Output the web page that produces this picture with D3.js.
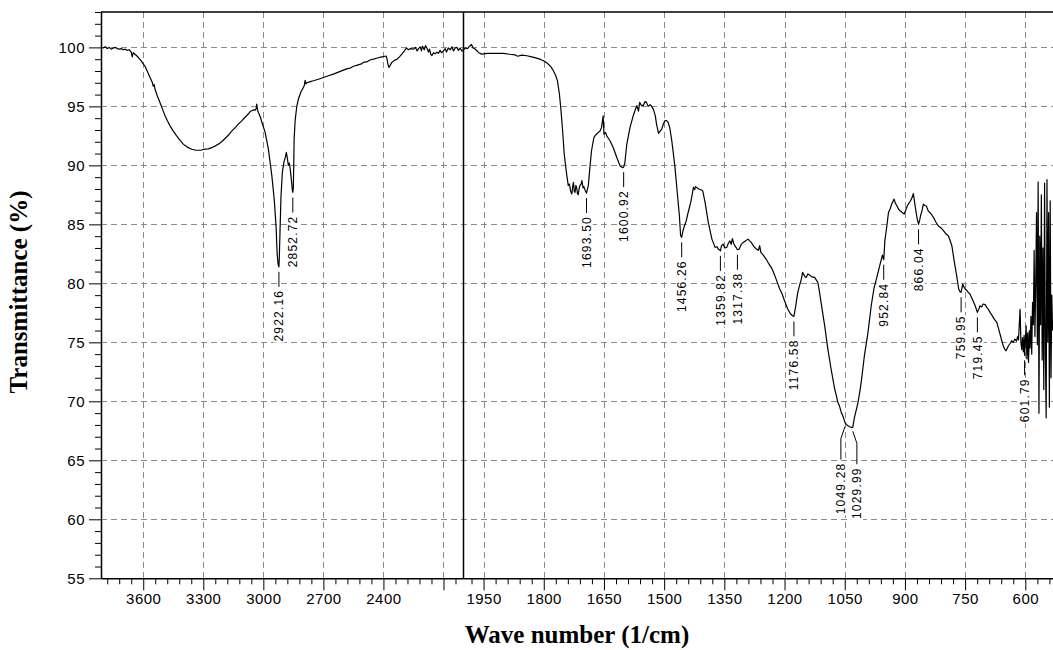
<!DOCTYPE html>
<html><head><meta charset="utf-8">
<script src="https://cdn.jsdelivr.net/npm/d3@7"></script>
<style>
html,body{margin:0;padding:0;background:#fff;}
svg{display:block;}
</style></head><body>
<svg id="chart" width="1053" height="650"></svg>
<script>
// FTIR transmittance spectrum, high wavenumber region (3811–2000 cm⁻¹)
const spectrumHigh = [
  [3811,100.0],[3800,99.95],[3790,100.05],[3780,99.9],[3770,100.0],[3760,99.85],[3750,99.95],[3740,100.0],
  [3730,99.9],[3720,99.85],[3710,99.9],[3700,99.8],[3690,99.85],[3680,99.75],[3670,99.8],[3660,99.6],
  [3655,99.2],[3650,99.55],[3640,99.4],[3630,99.25],[3620,99.05],[3610,98.85],[3600,98.6],[3591,98.4],
  [3580,98.0],[3566,97.45],[3555,97.05],[3550,96.7],[3545,96.85],[3541,96.45],[3530,95.9],[3516,95.3],
  [3500,94.6],[3491,94.2],[3480,93.8],[3466,93.35],[3450,92.9],[3433,92.5],[3415,92.1],[3400,91.8],
  [3380,91.55],[3358,91.37],[3340,91.3],[3325,91.28],[3310,91.3],[3291,91.37],[3275,91.4],[3258,91.5],
  [3240,91.65],[3225,91.8],[3208,92.0],[3190,92.3],[3175,92.55],[3158,92.9],[3140,93.2],[3125,93.5],
  [3108,93.77],[3090,94.1],[3075,94.35],[3066,94.56],[3050,94.7],[3041,94.68],[3036,94.8],[3033,95.2],
  [3029,94.7],[3025,94.5],[3015,94.1],[3008,93.7],[2991,92.8],[2975,91.4],[2958,89.2],[2945,87.0],
  [2936,84.7],[2931,82.5],[2926,81.6],[2922,81.4],[2920,82.3],[2917,84.2],[2912,87.3],[2905,89.4],
  [2897,90.3],[2890,90.7],[2885,91.1],[2880,90.6],[2875,90.0],[2870,90.2],[2865,89.6],[2860,88.8],
  [2855,87.9],[2852.7,87.7],[2850,88.1],[2846,92.3],[2841,93.8],[2833,95.0],[2825,95.6],[2813,96.2],
  [2800,96.6],[2795,96.8],[2791,97.2],[2787,96.9],[2783,97.0],[2765,97.1],[2750,97.17],[2725,97.3],
  [2700,97.45],[2675,97.6],[2650,97.73],[2625,97.9],[2600,98.07],[2580,98.2],[2565,98.25],[2550,98.4],
  [2530,98.5],[2510,98.6],[2500,98.73],[2480,98.8],[2465,98.95],[2450,99.0],[2430,99.1],[2408,99.2],
  [2392,99.25],[2386,99.26],[2382,99.0],[2378,98.6],[2372,98.3],[2366,98.5],[2358,98.73],[2345,98.9],
  [2333,99.0],[2320,99.2],[2308,99.43],[2295,99.7],[2286,99.95],[2275,99.8],[2265,99.9],[2250,99.85],
  [2240,100.0],[2232,99.7],[2225,99.9],[2216,100.05],[2210,99.7],[2205,100.1],[2196,99.8],[2190,100.15],
  [2183,99.95],[2175,99.6],[2170,99.85],[2163,99.4],[2158,99.3],[2150,99.55],[2142,99.45],[2133,99.6],
  [2125,99.5],[2117,99.75],[2110,99.55],[2100,99.7],[2092,99.9],[2085,99.6],[2076,99.95],[2066,99.8],
  [2058,100.05],[2050,99.7],[2042,99.95],[2033,100.0],[2025,99.75],[2017,99.95],[2008,99.7],[2000,99.8]
];

// Fingerprint region (2000–532 cm⁻¹)
const spectrumLow = [
  [2000,99.8],[1995,99.95],[1990,99.9],[1985,100.1],[1980,100.25],[1976,99.95],[1971,99.86],[1962,99.55],
  [1955,99.43],[1940,99.5],[1925,99.49],[1910,99.5],[1900,99.49],[1885,99.42],[1872,99.37],[1865,99.25],
  [1855,99.35],[1842,99.29],[1830,99.2],[1818,99.09],[1808,98.98],[1801,98.87],[1795,98.75],[1789,98.59],
  [1782,98.35],[1776,98.02],[1770,97.6],[1766,97.18],[1761,96.05],[1757,94.64],[1753,92.94],[1749,90.96],
  [1745,89.8],[1743,89.27],[1739,88.3],[1736,88.42],[1733,87.8],[1730,87.57],[1728,88.2],[1726,88.56],
  [1724,87.8],[1722,87.71],[1720,88.3],[1718,88.13],[1716,87.6],[1714,87.51],[1712,88.0],[1710,88.28],
  [1707,88.4],[1705,88.7],[1702,88.1],[1700,88.2],[1697,87.9],[1693.5,87.65],[1691,88.0],[1689,88.28],
  [1685,89.83],[1681,91.24],[1675,92.37],[1670,92.6],[1664,92.8],[1660,92.9],[1656,93.22],[1652,94.2],
  [1650,92.65],[1646,92.8],[1643,92.5],[1635,92.09],[1627,91.52],[1618,90.67],[1610,89.97],[1604,89.8],
  [1601,89.85],[1598,90.2],[1593,91.81],[1585,93.22],[1577,94.21],[1570,94.9],[1568,95.06],[1564,94.6],
  [1561,95.34],[1557,95.1],[1552,95.06],[1548,95.4],[1544,95.34],[1540,95.0],[1535,95.14],[1531,95.0],
  [1527,94.77],[1522,94.2],[1519,93.5],[1514,92.71],[1510,92.9],[1506,93.08],[1502,93.5],[1498,93.79],
  [1494,93.8],[1490,93.64],[1486,93.2],[1481,92.09],[1477,91.0],[1473,89.83],[1467,87.57],[1462,85.73],
  [1459,84.04],[1456.3,83.9],[1454,84.3],[1452,84.6],[1449,84.9],[1445,85.3],[1441,85.9],[1437,86.43],
  [1433,87.0],[1430,87.57],[1427,88.14],[1424,87.95],[1422,88.2],[1418,88.1],[1414,88.0],[1410,87.95],
  [1404,87.85],[1398,86.86],[1390,85.17],[1381,83.75],[1373,83.05],[1368,83.1],[1365,82.9],[1362,82.85],
  [1359.8,82.75],[1357,83.2],[1353,83.33],[1349,83.0],[1344,83.05],[1340,83.4],[1336,83.6],[1333,83.3],
  [1330,83.8],[1327,83.4],[1324,83.19],[1320,83.0],[1317.4,82.85],[1313,82.9],[1308,83.3],[1303,83.47],
  [1297,83.6],[1291,83.75],[1287,83.6],[1283,83.47],[1276,83.1],[1270,82.9],[1265,82.8],[1262,83.2],
  [1259,82.63],[1253,82.4],[1246,82.06],[1240,81.7],[1233,81.36],[1227,80.9],[1221,80.36],[1212,79.52],
  [1206,79.1],[1200,78.53],[1192,77.82],[1185,77.4],[1180,77.25],[1176.6,77.2],[1172,78.1],[1167,79.24],
  [1162,79.9],[1158,80.36],[1155,80.93],[1150,80.6],[1146,80.5],[1142,80.8],[1138,80.7],[1132,80.55],
  [1125,80.5],[1121,80.3],[1117,80.08],[1113,79.3],[1109,78.39],[1100,76.41],[1092,74.43],[1084,72.74],
  [1075,71.04],[1071,70.5],[1067,69.9],[1063,69.6],[1059,69.1],[1054,68.7],[1049.3,68.2],[1046,68.05],
  [1042,67.93],[1038,67.85],[1034,67.8],[1030,67.8],[1026,68.6],[1021,69.3],[1017,69.9],[1013,70.7],
  [1009,71.6],[1001,73.86],[992,75.85],[984,78.1],[977,79.6],[970,80.5],[962,81.6],[956,82.4],
  [952.8,82.0],[950,83.6],[945,84.88],[941,86.0],[937,86.3],[933,86.72],[927,87.14],[924,86.8],
  [920,86.58],[916,86.3],[912,86.15],[907,86.0],[902,85.87],[898,86.2],[894,86.58],[890,86.8],
  [886,87.0],[882,87.3],[879,87.6],[876,86.9],[872,86.0],[869,85.4],[866,85.0],[863,85.4],
  [861,85.73],[857,86.2],[854,86.72],[851,86.6],[847,86.58],[842,86.15],[835,85.9],[829,85.59],
  [823,85.2],[817,84.88],[810,84.7],[804,84.46],[798,84.2],[792,84.03],[788,83.7],[783,83.19],
  [778,82.06],[771,80.64],[766,79.52],[763,79.3],[760,79.24],[758,79.6],[756,79.94],[753,79.7],
  [750,79.52],[746,79.4],[742,79.24],[738,79.1],[734,78.81],[730,78.5],[725,78.1],[722,77.8],
  [719.5,77.54],[716,77.8],[713,78.1],[709,78.0],[705,78.25],[700,78.2],[696,77.96],[692,77.8],
  [688,77.54],[684,77.35],[680,77.12],[676,76.9],[671,76.69],[667,76.2],[663,75.7],[659,75.2],
  [655,74.71],[651,74.4],[648,74.29],[645,74.5],[642,74.71],[638,74.9],[634,75.14],[630,75.0],
  [626,75.28],[622,75.1],[619,75.5],[617,75.2],[615,76.5],[613,77.8],[611,75.0],[609,74.4],
  [607,75.4],[605,74.2],[603,75.6],[601.8,73.9],[600,75.0],[598,76.4],[596,73.6],[594,75.8],
  [592,73.3],[590,76.0],[588,74.5],[586,77.2],[584,74.0],[582,78.4],[580,76.5],[578,82.8],
  [576,75.5],[574,80.2],[572,86.0],[570,74.8],[568,88.6],[566,69.0],[564,84.0],[562,76.5],
  [560,87.5],[558,73.5],[556,83.0],[554,71.0],[552,88.5],[550,74.0],[548,68.6],[546,88.8],
  [544,75.0],[542,86.0],[540,69.5],[538,87.0],[536,72.0],[534,79.0],[532,76.0]
];

// Annotated absorption bands
const peakWaveNumbers = [2922.16, 2852.72, 1693.50, 1600.92, 1456.26, 1359.82, 1317.38, 1176.58,
  1049.28, 1029.99, 952.84, 866.04, 759.95, 719.45, 601.79];
const peakTransmittance = [81.4, 87.7, 87.65, 89.85, 83.9, 82.75, 82.85, 77.2,
  68.2, 67.8, 82.0, 85.0, 79.24, 77.54, 73.9];
const peakLabels = ["2922.16", "2852.72", "1693.50", "1600.92", "1456.26", "1359.82", "1317.38", "1176.58",
  "1049.28", "1029.99", "952.84", "866.04", "759.95", "719.45", "601.79"];

// Axis ticks
const yMajorTicks = [55, 60, 65, 70, 75, 80, 85, 90, 95, 100];
const yGridTicks = [60, 65, 70, 75, 80, 85, 90, 95, 100];
const xMajorHigh = [3600, 3300, 3000, 2700, 2400, 2100];
const xLabelsHigh = ["3600", "3300", "3000", "2700", "2400", ""];
const xMajorLow = [1950, 1800, 1650, 1500, 1350, 1200, 1050, 900, 750, 600];
const xLabelsLow = ["1950", "1800", "1650", "1500", "1350", "1200", "1050", "900", "750", "600"];
const xBreak = 2000;

const svg = d3.select("#chart");
const plotLeft = 101, plotTop = 12, plotBottom = 578.3, plotRight = 1053, breakX = 463.5;

// Two linear pieces: compressed high range, expanded fingerprint range
const x = d3.scaleLinear()
  .domain([3811, xBreak, 531])
  .range([plotLeft, breakX, plotRight]);
const y = d3.scaleLinear().domain([55, 103]).range([plotBottom, plotTop]);

const xMajor = xMajorHigh.concat(xMajorLow);
const xLabelMap = new Map(xMajor.map((v, i) => [v, xLabelsHigh.concat(xLabelsLow)[i]]));
const xMinor = [];
for (let v = 3780; v > xBreak; v -= 60) if (!xMajorHigh.includes(v)) xMinor.push(v);
for (let v = 1980; v > 531; v -= 30) if (!xMajorLow.includes(v)) xMinor.push(v);
const yMinor = d3.range(56, 104).filter(v => v % 5 !== 0);

// Dashed grid
const grid = svg.append("g").attr("stroke", "#8a8a8a").attr("stroke-width", 1)
  .attr("stroke-dasharray", "6,4");
grid.selectAll("line.v").data(xMajor).join("line")
  .attr("x1", d => Math.round(x(d)) + 0.5).attr("x2", d => Math.round(x(d)) + 0.5)
  .attr("y1", plotTop).attr("y2", plotBottom);
grid.selectAll("line.h").data(yGridTicks).join("line")
  .attr("x1", plotLeft).attr("x2", plotRight)
  .attr("y1", d => Math.round(y(d)) + 0.5).attr("y2", d => Math.round(y(d)) + 0.5);

// Spectrum trace
const spectrum = spectrumHigh.concat(spectrumLow.slice(1));
svg.append("path")
  .datum(spectrum)
  .attr("fill", "none").attr("stroke", "#000").attr("stroke-width", 1.2)
  .attr("stroke-linejoin", "round")
  .attr("d", d3.line().x(d => x(d[0])).y(d => y(d[1])));

// Scale break marker
svg.append("line")
  .attr("x1", breakX).attr("x2", breakX).attr("y1", plotTop).attr("y2", plotBottom)
  .attr("stroke", "#000").attr("stroke-width", 1.5);

// Peak annotations: leader line plus vertical value label
const peaks = peakWaveNumbers.map((w, i) => ({
  ax: x(w), ay: y(peakTransmittance[i]), text: peakLabels[i]
}));
// spread labels whose anchors sit too close together
const sortedPeaks = peaks.slice().sort((a, b) => a.ax - b.ax);
sortedPeaks.forEach(p => { p.lx = p.ax; p.fan = false; });
for (let i = 0; i < sortedPeaks.length - 1; i++) {
  const a = sortedPeaks[i], b = sortedPeaks[i + 1];
  if (b.ax - a.ax < 12) {
    const mid = (a.ax + b.ax) / 2;
    a.lx = mid - 8; b.lx = mid + 8;
    a.fan = b.fan = true;
  }
}
const ann = svg.append("g");
peaks.forEach(p => {
  let textTop;
  if (p.fan) {
    ann.append("path")
      .attr("d", `M${p.ax},${p.ay + 4}L${p.lx},${p.ay + 16}L${p.lx},${p.ay + 37}`)
      .attr("fill", "none").attr("stroke", "#000").attr("stroke-width", 1);
    textTop = p.ay + 40;
  } else {
    ann.append("line")
      .attr("x1", p.ax).attr("x2", p.ax).attr("y1", p.ay + 5).attr("y2", p.ay + 20)
      .attr("stroke", "#000").attr("stroke-width", 1);
    textTop = p.ay + 23;
  }
  const g = ann.append("g").attr("transform", `translate(${p.lx},${textTop}) rotate(-90)`);
  const bg = g.append("rect").attr("fill", "#fff");
  const t = g.append("text")
    .attr("text-anchor", "end").attr("dy", "0.36em")
    .attr("font-family", "'Liberation Sans', Arial, sans-serif")
    .attr("font-size", 12).attr("letter-spacing", 1.2)
    .text(p.text);
  const bb = t.node().getBBox();
  bg.attr("x", bb.x - 1).attr("y", bb.y + 1).attr("width", bb.width + 1).attr("height", bb.height - 2);
});

// Axes
const axisFont = "'Liberation Sans', Arial, sans-serif";
const yAxis = svg.append("g").attr("transform", `translate(${plotLeft},0)`)
  .call(d3.axisLeft(y).tickValues(yMajorTicks).tickSize(12).tickSizeOuter(0).tickPadding(4));
svg.append("g").attr("transform", `translate(${plotLeft},0)`)
  .call(d3.axisLeft(y).tickValues(yMinor).tickSize(6).tickFormat(""))
  .call(g => g.select(".domain").remove());
const xAxis = svg.append("g").attr("transform", `translate(0,${plotBottom})`)
  .call(d3.axisBottom(x).tickValues(xMajor).tickSize(12).tickSizeOuter(0).tickPadding(3)
    .tickFormat(d => xLabelMap.get(d)));
svg.append("g").attr("transform", `translate(0,${plotBottom})`)
  .call(d3.axisBottom(x).tickValues(xMinor).tickSize(6).tickFormat(""))
  .call(g => g.select(".domain").remove());

svg.selectAll(".tick line").attr("stroke", "#000").attr("stroke-width", 1);
[yAxis, xAxis].forEach(a => {
  a.select(".domain").attr("stroke", "#000").attr("stroke-width", 1.5);
  a.selectAll("text").attr("font-family", axisFont).attr("font-size", 15)
    .attr("letter-spacing", 0.5).attr("fill", "#000");
});

// Top frame edge
svg.append("line")
  .attr("x1", plotLeft).attr("x2", plotRight).attr("y1", plotTop).attr("y2", plotTop)
  .attr("stroke", "#000").attr("stroke-width", 1.5);

// Axis titles
svg.append("text")
  .attr("x", 577).attr("y", 643).attr("text-anchor", "middle")
  .attr("font-family", "'Liberation Serif', 'Times New Roman', serif")
  .attr("font-weight", "bold").attr("font-size", 25)
  .text("Wave number (1/cm)");
svg.append("text")
  .attr("transform", "translate(27,292) rotate(-90)").attr("text-anchor", "middle")
  .attr("font-family", "'Liberation Serif', 'Times New Roman', serif")
  .attr("font-weight", "bold").attr("font-size", 25)
  .text("Transmittance (%)");
</script>
</body></html>
